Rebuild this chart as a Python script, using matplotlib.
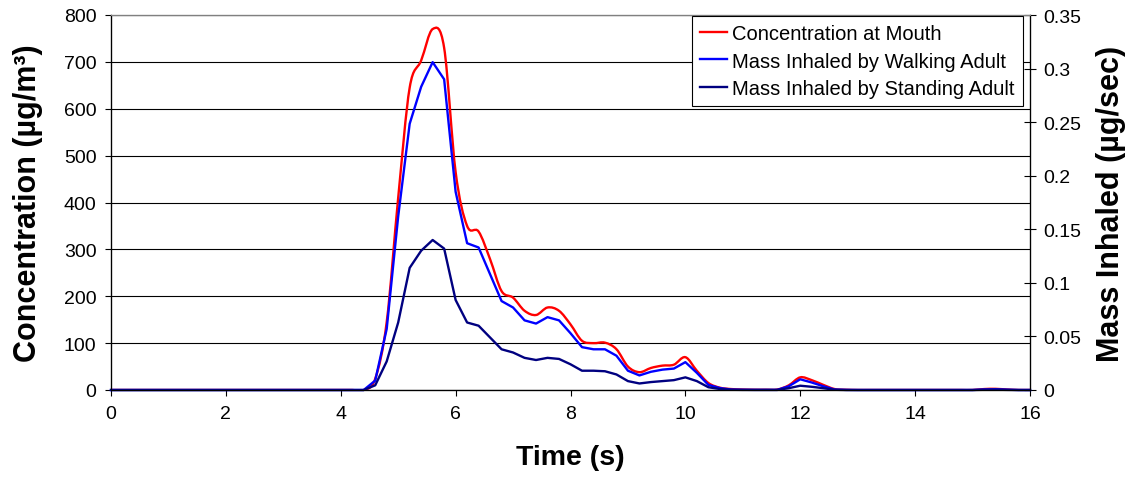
import numpy as np
import matplotlib
matplotlib.use('Agg')
import matplotlib.pyplot as plt
from matplotlib.path import Path
from matplotlib.patches import PathPatch
from matplotlib.lines import Line2D

plt.rcParams['font.family'] = ['Liberation Sans', 'DejaVu Sans']

# ── data (sampled every 0.2 s, 0 .. 16 s) ────────────────────────────────────
time_s = np.linspace(0, 16, 81)

# nothing happens before 4.4 s
quiet_start = [0.0] * 22                    # 0.0 .. 4.2 s

conc_mouth = quiet_start + [                # µg/m3, left axis
    0, 24, 145, 410, 645, 703, 770, 730, 465, 350,          # 4.4 .. 6.2
    338, 279, 211, 197, 169, 160, 176, 169, 140, 105,       # 6.4 .. 8.2
    100, 101, 87, 50, 38, 47, 52, 54, 70, 41,               # 8.4 .. 10.2
    15, 5, 2, 1, 0.5, 0.5, 1, 10, 27, 21,                   # 10.4 .. 12.2
    11, 2, 0.5, 0, 0, 0, 0, 0, 0, 0,                        # 12.4 .. 14.2
    0, 0, 0, 0, 2, 2.5, 1, 0, 0,                            # 14.4 .. 16.0
]

walking_adult = quiet_start + [             # µg/sec, right axis
    0, 0.0088, 0.057, 0.162, 0.2485, 0.283, 0.306, 0.290, 0.185, 0.137,
    0.133, 0.108, 0.083, 0.077, 0.065, 0.062, 0.068, 0.065, 0.053, 0.040,
    0.038, 0.038, 0.032, 0.018, 0.0136, 0.017, 0.019, 0.020, 0.026, 0.016,
    0.0048, 0.0018, 0.0004, 0.0002, 0.0001, 0.0001, 0.0001, 0.0035, 0.010, 0.007,
    0.0035, 0.0004, 0.0001, 0, 0, 0, 0, 0, 0, 0,
    0, 0, 0, 0, 0.0005, 0.0007, 0.0003, 0, 0,
]

standing_adult = quiet_start + [            # µg/sec, right axis
    0, 0.0044, 0.0267, 0.063, 0.114, 0.130, 0.140, 0.132, 0.084, 0.063,
    0.060, 0.049, 0.038, 0.035, 0.030, 0.028, 0.030, 0.029, 0.024, 0.018,
    0.018, 0.0175, 0.0145, 0.0083, 0.0061, 0.0074, 0.0083, 0.0092, 0.0118, 0.0083,
    0.0026, 0.0009, 0.0002, 0.0001, 0.0001, 0.0001, 0.0001, 0.0017, 0.004, 0.003,
    0.0017, 0.0002, 0, 0, 0, 0, 0, 0, 0, 0,
    0, 0, 0, 0, 0.0002, 0.0003, 0.0001, 0, 0,
]

x_ticks = [0, 2, 4, 6, 8, 10, 12, 14, 16]
left_ticks = [0, 100, 200, 300, 400, 500, 600, 700, 800]
right_ticks = [0, 0.05, 0.1, 0.15, 0.2, 0.25, 0.3, 0.35]
right_labels = ['0', '0.05', '0.1', '0.15', '0.2', '0.25', '0.3', '0.35']

RED, BLUE, NAVY = '#FF0000', '#0000FF', '#000080'


def smooth_path(xs, ys):
    """Excel-style smoothed line: Catmull-Rom turned into cubic Beziers."""
    pts = np.column_stack([xs, ys])
    n = len(pts)
    verts, codes = [pts[0]], [Path.MOVETO]
    for i in range(n - 1):
        p0 = pts[max(i - 1, 0)]
        p1, p2 = pts[i], pts[i + 1]
        p3 = pts[min(i + 2, n - 1)]
        verts += [p1 + (p2 - p0) / 6, p2 - (p3 - p1) / 6, p2]
        codes += [Path.CURVE4] * 3
    return Path(verts, codes)


fig = plt.figure(figsize=(11.38, 4.81), dpi=100)
ax = fig.add_axes([111 / 1138, 90 / 481, 919 / 1138, 375 / 481])
ax2 = ax.twinx()

# concentration on the left axis, smoothed
ax.add_patch(PathPatch(smooth_path(time_s, conc_mouth), facecolor='none',
                       edgecolor=RED, lw=1.7, zorder=3))
ax.set_xlim(0, 16)
ax.set_ylim(0, 800)
ax.set_xticks(x_ticks)
ax.set_yticks(left_ticks)
ax.yaxis.grid(True, color='black', lw=0.8)
ax.set_axisbelow(True)

# inhaled mass on the right axis
ax2.plot(time_s, walking_adult, color=BLUE, lw=1.7, clip_on=False,
         label='Mass Inhaled by Walking Adult')
ax2.plot(time_s, standing_adult, color=NAVY, lw=1.7, clip_on=False,
         label='Mass Inhaled by Standing Adult')
ax2.set_ylim(0, 0.35)
ax2.set_yticks(right_ticks)
ax2.set_yticklabels(right_labels)

ax.tick_params(axis='both', labelsize=14, length=4.5, width=0.8,
               direction='out', pad=6)
ax2.tick_params(axis='y', labelsize=14, length=8.5, width=0.8,
                direction='inout', pad=5)

for sp in ax.spines.values():
    sp.set_linewidth(0.9)
ax.spines['top'].set_color('#808080')
ax2.spines['top'].set_color('#808080')
ax2.spines['right'].set_color('black')

ax.set_xlabel('Time (s)', fontsize=20.5, weight='bold')
ax.xaxis.set_label_coords(0.5, -0.145)
ax.set_ylabel('Concentration (µg/m³)', fontsize=22, weight='bold')
ax.yaxis.set_label_coords(-0.074, 0.5)
ax2.set_ylabel('Mass Inhaled (µg/sec)', fontsize=22, weight='bold')
ax2.yaxis.set_label_coords(1.072, 0.5)

handles = [Line2D([], [], color=RED, lw=1.7)] + ax2.get_lines()
labels = ['Concentration at Mouth', 'Mass Inhaled by Walking Adult',
          'Mass Inhaled by Standing Adult']
leg = ax2.legend(handles, labels, loc='upper right',
                 bbox_to_anchor=(0.9924, 0.9973), borderaxespad=0,
                 fontsize=14.5, handlelength=1.35, handletextpad=0.25,
                 labelspacing=0.42, fancybox=False, framealpha=1,
                 edgecolor='black')
leg.get_frame().set_linewidth(0.8)

fig.savefig('out.png', dpi=100, facecolor='white')
